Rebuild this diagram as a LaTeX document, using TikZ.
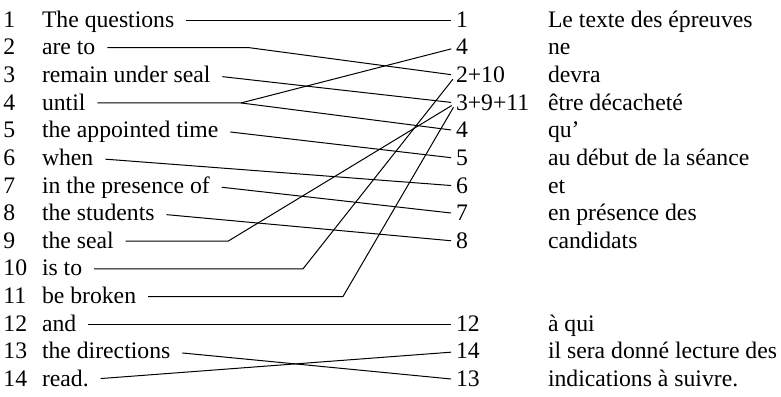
\documentclass[tikz,border=0pt]{standalone}
\usepackage{fontspec}
\setmainfont{Liberation Serif}
\begin{document}
\begin{tikzpicture}[x=0.5pt,y=-0.5pt,
  every node/.style={font=\fontsize{11.85}{14}\selectfont, inner sep=0pt, outer sep=0pt},
  lbl/.style={anchor=west, text height=7.1pt, text depth=0pt},
  link/.style={draw=black, line width=0.5pt, shorten >=2.5pt},
  fromtext/.style={link, shorten <=6pt}]
\useasboundingbox (0,0) rectangle (781,396);
\def\rowy#1{{20+(#1-1)*27.65}}

% English words, numbered
\foreach \i/\t in {1/The questions, 2/are to, 3/remain under seal, 4/until,
    5/the appointed time, 6/when, 7/in the presence of, 8/the students,
    9/the seal, 10/is to, 11/be broken, 12/and, 13/the directions, 14/read.} {
  \node[lbl] (n\i) at (3.5, \rowy{\i}) {\i};
  \node[lbl] (L\i) at (42, \rowy{\i}) {\t};
}

% French words with the English positions they take
\foreach \i/\k/\t in {1/1/Le texte des épreuves, 2/4/ne, 3/2+10/devra,
    4/3+9+11/être décacheté, 5/4/qu’, 6/5/au début de la séance, 7/6/et,
    8/7/en présence des, 9/8/candidats, 12/12/à qui,
    13/14/il sera donné lecture des, 14/13/indications à suivre.} {
  \node[lbl] (R\i) at (456, \rowy{\i}) {\k};
  \node[lbl] (F\i) at (548, \rowy{\i}) {\t};
}

% bends of the links
\coordinate (k2)  at (249, \rowy{2});
\coordinate (k4)  at (241, \rowy{4});
\coordinate (k9)  at (228, \rowy{9});
\coordinate (k10) at (303, \rowy{10});
\coordinate (k11) at (343, \rowy{11});

% alignment links
\draw[fromtext] (L1.east) -- (R1.west);
\draw[fromtext] (L2.east) -- (k2) -- (R3.west);
\draw[fromtext] (L3.east) -- (R4.west);
\draw[fromtext] (L4.east) -- (k4) -- (R2.west);
\draw[link] (k4) -- (R5.west);
\draw[fromtext] (L5.east) -- (R6.west);
\draw[fromtext] (L6.east) -- (R7.west);
\draw[fromtext] (L7.east) -- (R8.west);
\draw[fromtext] (L8.east) -- (R9.west);
\draw[fromtext] (L9.east) -- (k9) -- (R4.west);
\draw[fromtext] (L10.east) -- (k10) -- (R3.west);
\draw[fromtext] (L11.east) -- (k11) -- (R4.west);
\draw[fromtext] (L12.east) -- (R12.west);
\draw[fromtext] (L13.east) -- (R14.west);
\draw[fromtext] (L14.east) -- (R13.west);
\end{tikzpicture}
\end{document}
